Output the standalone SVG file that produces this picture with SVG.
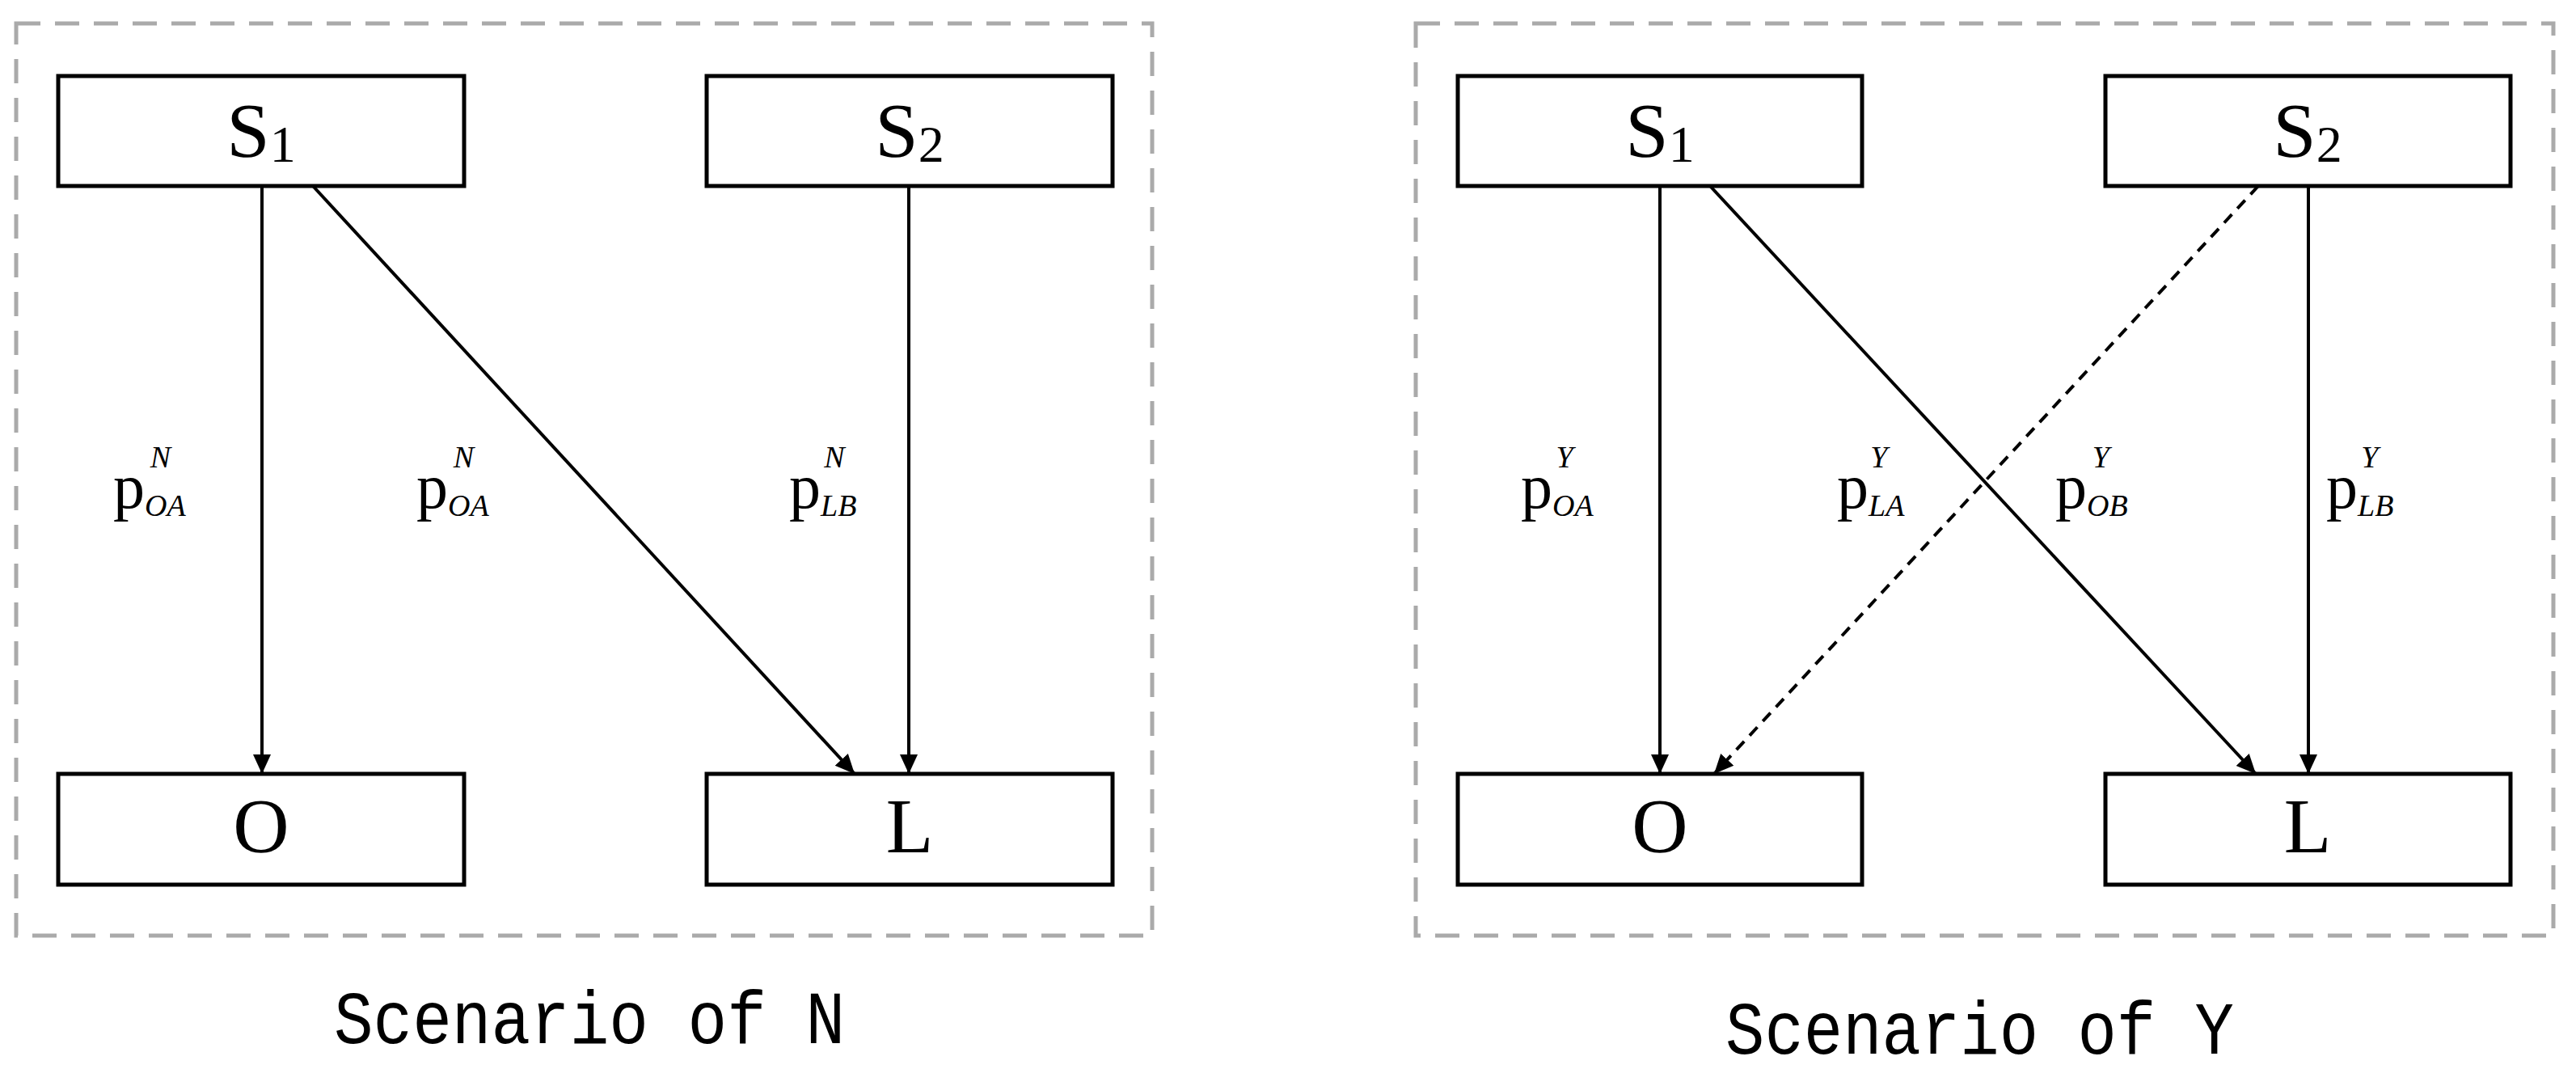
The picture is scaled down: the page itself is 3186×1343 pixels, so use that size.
<svg xmlns="http://www.w3.org/2000/svg" width="3186" height="1343" viewBox="0 0 3186 1343">
<style>
.frame{fill:none;stroke:#aaaaaa;stroke-width:5;stroke-dasharray:30,18}
.box{fill:#fff;stroke:#000;stroke-width:5}
.lbl{font-family:"Liberation Serif",serif;font-size:96px;text-anchor:middle}
.p{font-family:"Liberation Serif",serif;font-size:78px}
.it{font-style:italic;font-size:38px}
.edge{stroke:#000;stroke-width:4;fill:none}
.dash{stroke-dasharray:14,10}
.title{font-family:"Liberation Mono",monospace;font-size:92px}
</style>
<defs>
<marker id="ah" markerUnits="userSpaceOnUse" markerWidth="24" markerHeight="26" refX="24" refY="12" orient="auto" viewBox="0 0 24 24">
<path d="M0,1 L24,12 L0,23 Z" fill="#000"/>
</marker>
</defs>
<rect class="frame" x="20" y="29" width="1405" height="1128"/>
<rect class="frame" x="1751" y="29" width="1407" height="1128"/>
<g id="connectors">
<line class="edge" x1="324" y1="230" x2="324" y2="957" marker-end="url(#ah)"/>
<line class="edge" x1="387" y1="230" x2="1057" y2="957" marker-end="url(#ah)"/>
<line class="edge" x1="1124" y1="230" x2="1124" y2="957" marker-end="url(#ah)"/>
<line class="edge" x1="2053" y1="230" x2="2053" y2="957" marker-end="url(#ah)"/>
<line class="edge" x1="2115" y1="230" x2="2790" y2="957" marker-end="url(#ah)"/>
<line class="edge" x1="2855" y1="230" x2="2855" y2="957" marker-end="url(#ah)"/>
<line class="edge dash" x1="2793" y1="230" x2="2120" y2="957" marker-end="url(#ah)"/>
</g>
<g id="nS1">
<rect class="box" x="72" y="94" width="502" height="136"/>
<text class="lbl" x="323" y="194">S<tspan font-size="64" dy="6">1</tspan></text>
</g>
<g id="nS2">
<rect class="box" x="874" y="94" width="502" height="136"/>
<text class="lbl" x="1125" y="194">S<tspan font-size="64" dy="6">2</tspan></text>
</g>
<g id="nO">
<rect class="box" x="72" y="957" width="502" height="137"/>
<text class="lbl" x="323" y="1054">O</text>
</g>
<g id="nL">
<rect class="box" x="874" y="957" width="502" height="137"/>
<text class="lbl" x="1125" y="1054">L</text>
</g>
<g id="nS1y">
<rect class="box" x="1803" y="94" width="500" height="136"/>
<text class="lbl" x="2053" y="194">S<tspan font-size="64" dy="6">1</tspan></text>
</g>
<g id="nS2y">
<rect class="box" x="2604" y="94" width="501" height="136"/>
<text class="lbl" x="2854" y="194">S<tspan font-size="64" dy="6">2</tspan></text>
</g>
<g id="nOy">
<rect class="box" x="1803" y="957" width="500" height="137"/>
<text class="lbl" x="2053" y="1054">O</text>
</g>
<g id="nLy">
<rect class="box" x="2604" y="957" width="501" height="137"/>
<text class="lbl" x="2854" y="1054">L</text>
</g>
<g id="labels">
<text class="p" x="140" y="628">p<tspan class="it" dy="10">OA</tspan><tspan class="it" dx="-44" dy="-60">N</tspan></text>
<text class="p" x="515" y="628">p<tspan class="it" dy="10">OA</tspan><tspan class="it" dx="-44" dy="-60">N</tspan></text>
<text class="p" x="976" y="628">p<tspan class="it" dy="10">LB</tspan><tspan class="it" dx="-40" dy="-60">N</tspan></text>
<text class="p" x="1881" y="628">p<tspan class="it" dy="10">OA</tspan><tspan class="it" dx="-44" dy="-60">Y</tspan></text>
<text class="p" x="2272" y="628">p<tspan class="it" dy="10">LA</tspan><tspan class="it" dx="-40" dy="-60">Y</tspan></text>
<text class="p" x="2542" y="628">p<tspan class="it" dy="10">OB</tspan><tspan class="it" dx="-44" dy="-60">Y</tspan></text>
<text class="p" x="2877" y="628">p<tspan class="it" dy="10">LB</tspan><tspan class="it" dx="-40" dy="-60">Y</tspan></text>
</g>
<text class="title" x="413" y="1290" textLength="632" lengthAdjust="spacingAndGlyphs">Scenario of N</text>
<text class="title" x="2134" y="1303" textLength="629" lengthAdjust="spacingAndGlyphs">Scenario of Y</text>
</svg>
